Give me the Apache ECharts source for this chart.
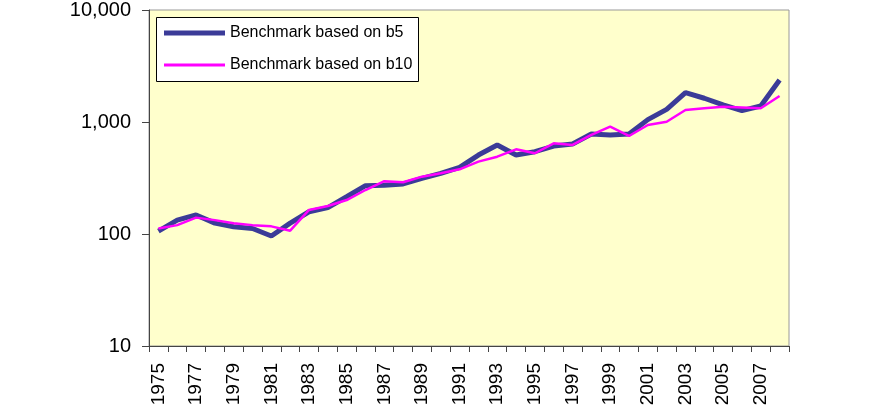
<!DOCTYPE html>
<html>
<head>
<meta charset="utf-8">
<script src="https://cdn.jsdelivr.net/npm/echarts@6/dist/echarts.min.js"></script>
<style>
html,body{margin:0;padding:0;background:#fff;}
#chart{width:882px;height:412px;}
</style>
</head>
<body>
<div id="chart"></div>
<script>
var years = ["1975","1976","1977","1978","1979","1980","1981","1982","1983","1984","1985","1986","1987","1988","1989","1990","1991","1992","1993","1994","1995","1996","1997","1998","1999","2000","2001","2002","2003","2004","2005","2006","2007","2008"];
var b5Values = [106,133,148,125,116,112,96,125,158,172,215,270,272,280,314,348,394,507,624,507,543,610,637,782,766,782,1050,1297,1828,1630,1419,1262,1390,2371];
var b10Values = [112,120,140,133,125,120,117,107,164,178,201,247,296,290,325,348,378,443,490,570,526,645,624,766,908,750,940,1006,1280,1325,1370,1350,1325,1706];
var seriesNames = ["Benchmark based on b5","Benchmark based on b10"];
var colors = ['#3b3b98', '#ff00ff'];
var FONT = 'Liberation Sans, Arial, sans-serif';

var chart = echarts.init(document.getElementById('chart'));
chart.setOption({
  animation: false,
  backgroundColor: '#ffffff',
  textStyle: {fontFamily: FONT},
  grid: {
    left: 149, right: 93, top: 10, bottom: 66,
    show: true, backgroundColor: '#ffffcc', borderColor: '#999999', borderWidth: 1
  },
  graphic: [{
    type: 'rect', z: 3,
    shape: {x: 156.5, y: 17.5, width: 262, height: 64},
    style: {fill: '#ffffff', stroke: '#000000', lineWidth: 1}
  }],
  legend: [
    {
      orient: 'vertical', left: 164, top: 24, z: 5, padding: 0,
      icon: 'rect', itemWidth: 61, itemHeight: 5,
      textStyle: {fontSize: 16, color: '#000', fontFamily: FONT, lineHeight: 18},
      data: [seriesNames[0]]
    },
    {
      orient: 'vertical', left: 164, top: 56, z: 5, padding: 0,
      icon: 'rect', itemWidth: 61, itemHeight: 3,
      textStyle: {fontSize: 16, color: '#000', fontFamily: FONT, lineHeight: 18},
      data: [seriesNames[1]]
    }
  ],
  xAxis: {
    type: 'category',
    data: years,
    boundaryGap: true,
    axisLine: {lineStyle: {color: '#444', width: 1}},
    axisTick: {show: true, length: 6, interval: 0, lineStyle: {color: '#444'}},
    axisLabel: {interval: 1, rotate: 90, fontSize: 19, color: '#000', margin: 17, fontFamily: FONT},
    splitLine: {show: false}
  },
  yAxis: {
    type: 'log',
    logBase: 10,
    min: 10, max: 10000,
    axisLine: {show: true, lineStyle: {color: '#444', width: 1}},
    axisTick: {show: true, length: 7, lineStyle: {color: '#444'}},
    minorTick: {show: false},
    axisLabel: {fontSize: 20, color: '#000', margin: 18, fontFamily: FONT,
      formatter: function(v){ return Math.round(v).toLocaleString('en-US'); }},
    splitLine: {show: false}
  },
  series: [
    {
      name: seriesNames[0], type: 'line', data: b5Values,
      symbol: 'none', smooth: false,
      lineStyle: {color: colors[0], width: 5},
      itemStyle: {color: colors[0]}
    },
    {
      name: seriesNames[1], type: 'line', data: b10Values,
      symbol: 'none', smooth: false,
      lineStyle: {color: colors[1], width: 2.5},
      itemStyle: {color: colors[1]}
    }
  ]
});
</script>
</body>
</html>
